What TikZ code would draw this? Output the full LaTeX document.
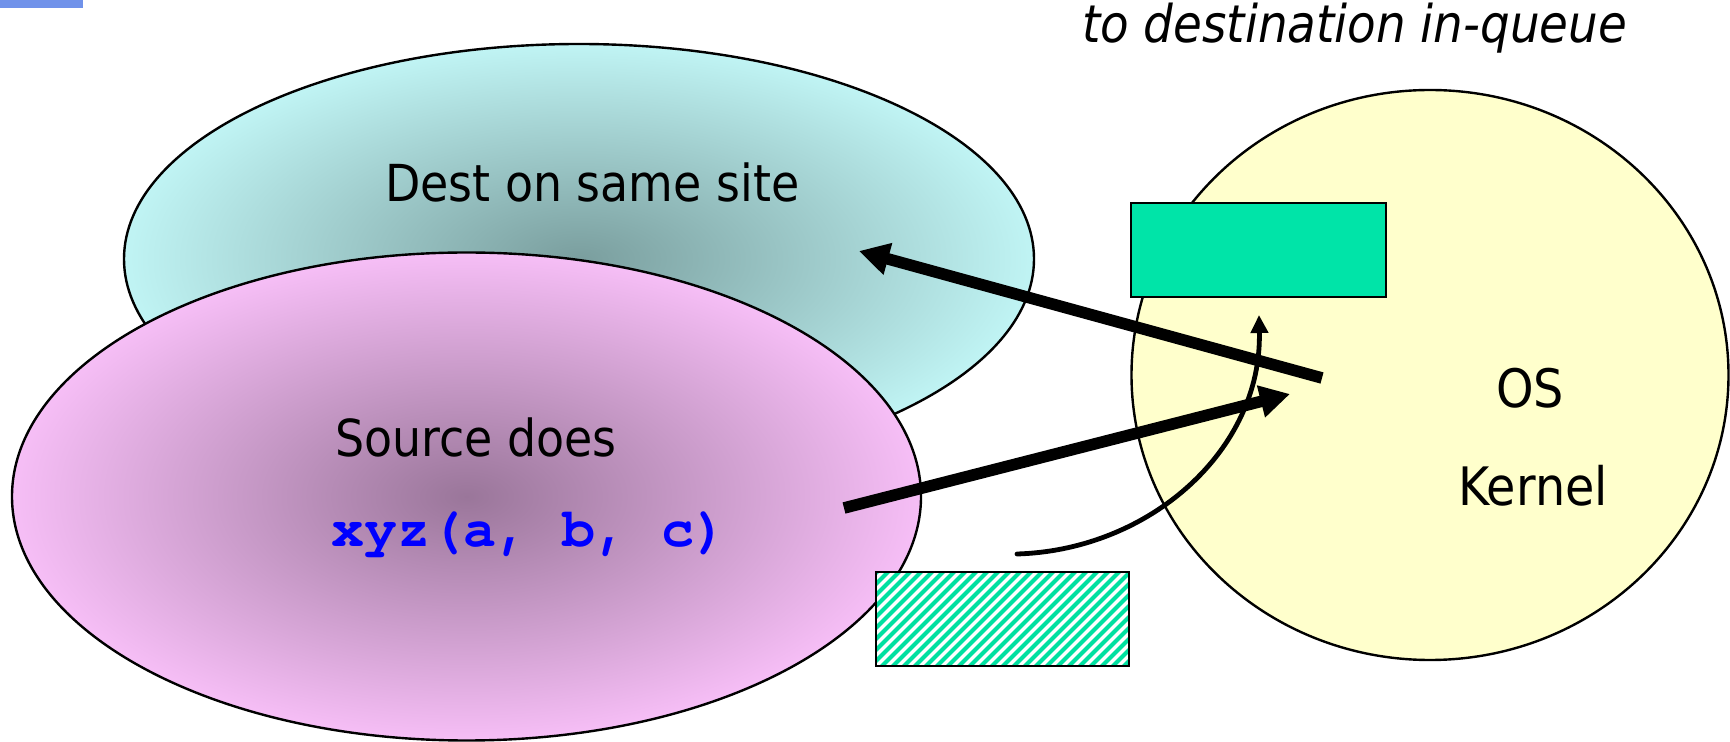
\documentclass[tikz,border=0pt]{standalone}
\usepackage{fontspec}
\setmainfont{DejaVu Sans}[FakeStretch=0.9]
\setmonofont{TeX Gyre Cursor}
\usetikzlibrary{shapes.geometric,arrows.meta}
\definecolor{cyanedge}{RGB}{192,244,244}
\definecolor{cyancen}{RGB}{122,158,158}
\definecolor{pinkedge}{RGB}{246,190,246}
\definecolor{pinkcen}{RGB}{154,118,154}
\definecolor{kernelyellow}{RGB}{255,255,204}
\definecolor{queuegreen}{RGB}{0,228,168}
\definecolor{hatchgreen}{RGB}{0,224,160}
\definecolor{barblue}{RGB}{112,146,234}
\definecolor{codeblue}{RGB}{0,0,255}
\tikzset{
  blob/.style={ellipse, draw=black, line width=1.2pt, inner sep=0pt, outer sep=0pt},
  qbox/.style={rectangle, draw=black, line width=1.4pt, inner sep=0pt, outer sep=0pt},
  lbl/.style={inner sep=0pt, outer sep=0pt, text=black, font=\fontsize{25.5pt}{30pt}\selectfont},
  oslbl/.style={lbl, font=\fontsize{26.5pt}{30pt}\selectfont},
  codelbl/.style={inner sep=0pt, outer sep=0pt, text=codeblue, font=\ttfamily\bfseries\fontsize{27.5pt}{30pt}\selectfont},
  notelbl/.style={inner sep=0pt, outer sep=0pt, font=\itshape\fontsize{26pt}{30pt}\selectfont},
  bigarrow/.style={line width=5.8pt, -{Triangle[length=15pt,width=15.5pt]}},
  thinarrow/.style={line width=2.4pt, -{Triangle[length=9pt,width=8.5pt]}},
  hatchline/.style={draw=hatchgreen, line width=2pt},
}
\begin{document}
\begin{tikzpicture}[x=0.5pt,y=-0.5pt]
\useasboundingbox (0,0) rectangle (1730,742);
% top-left bar
\fill[barblue] (0,0) rectangle (83,8);
% ellipses
\node[blob, shade, inner color=cyancen, outer color=cyanedge,
      minimum width=455pt, minimum height=215pt] (dest) at (579,259) {};
\node[blob, shade, inner color=pinkcen, outer color=pinkedge,
      minimum width=454.5pt, minimum height=244pt] (src) at (466.5,496.5) {};
\node[blob, fill=kernelyellow, minimum width=298.5pt, minimum height=285pt] (os) at (1430,375) {};
% queue boxes
\node[qbox, fill=queuegreen, minimum width=127.5pt, minimum height=47pt] (inq) at (1258.5,250) {};
\node[qbox, fill=white, minimum width=126.5pt, minimum height=47pt] (hat) at (1002.5,619) {};
\begin{scope}
  \clip (876,572) rectangle (1129,666);
  \foreach \k in {0,...,34} \draw[hatchline] (770+\k*11,668) -- ++(100,-100);
\end{scope}
\draw[line width=1.4pt] (hat.south west) rectangle (hat.north east);
% labels
\node[notelbl, anchor=base west] (note) at (1082,43) {to destination in-queue};
\node[lbl, anchor=base west] (destlbl) at (385,202) {Dest on same site};
\node[lbl, anchor=base west] (srclbl) at (335,457) {Source does};
\node[codelbl, anchor=base west] (code) at (331,547) {xyz(a, b, c)};
\node[oslbl, anchor=base west] (oslbl1) at (1496,408) {OS};
\node[oslbl, anchor=base west] (oslbl2) at (1458,506) {Kernel};
% arrows
\coordinate (a1) at (1322,378);
\coordinate (a2) at (859,251);
\coordinate (b1) at (844,508);
\coordinate (b2) at (1290,394);
\coordinate (c1) at (1017,554);
\coordinate (c2) at (1259,315);
\draw[bigarrow] (a1) -- (a2);
\draw[bigarrow] (b1) -- (b2);
\draw[thinarrow, line cap=round] (c1) .. controls (1150,550) and (1262,450) .. (c2);
\end{tikzpicture}
\end{document}
